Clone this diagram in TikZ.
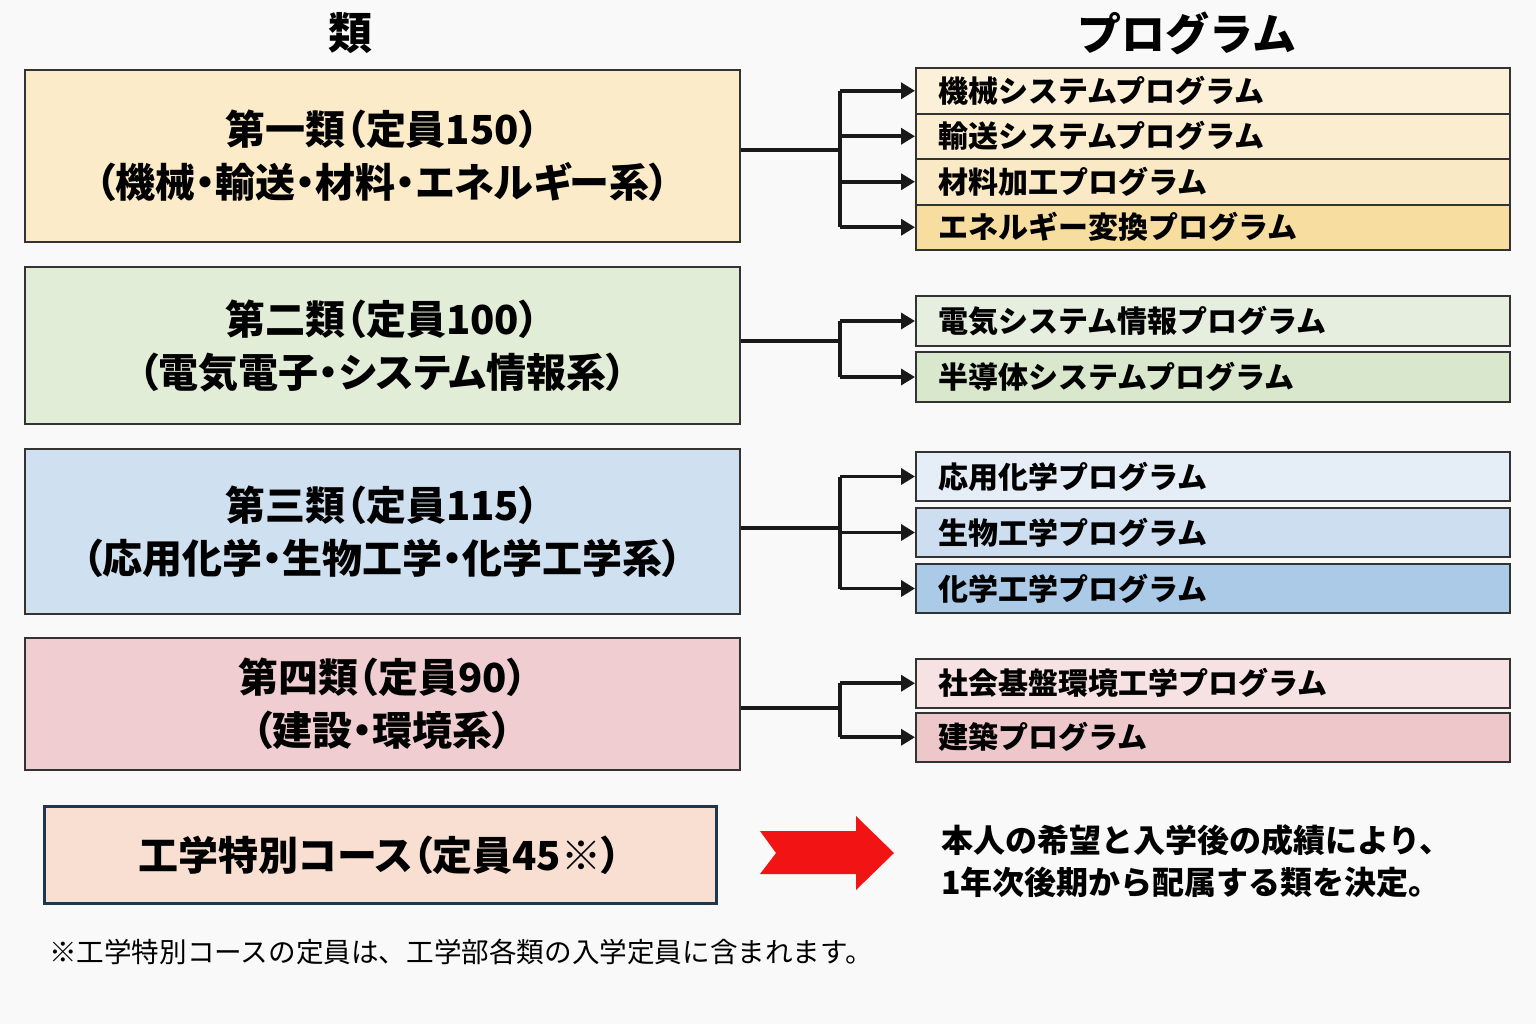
\documentclass[tikz,border=0pt]{standalone}
\usepackage{fontspec}
\setmainfont{Noto Sans CJK JP}
\newfontfamily\jp{Noto Sans CJK JP}[RawFeature=+palt]
\usetikzlibrary{arrows.meta}

\definecolor{bgc}{HTML}{F9F9F9}
\definecolor{rui1c}{HTML}{FBEBC9}
\definecolor{rui2c}{HTML}{E2EDD8}
\definecolor{rui3c}{HTML}{CFE0F0}
\definecolor{rui4c}{HTML}{F0CDD0}
\definecolor{tokuc}{HTML}{F8DFD2}
\definecolor{tokuline}{HTML}{1F3650}
\definecolor{pa1}{HTML}{FCF1D8}
\definecolor{pa2}{HTML}{FBEDCF}
\definecolor{pa3}{HTML}{FAE9C5}
\definecolor{pa4}{HTML}{F8DDA0}
\definecolor{pb1}{HTML}{E6EEDF}
\definecolor{pb2}{HTML}{D9E7CD}
\definecolor{pc1}{HTML}{E5EDF7}
\definecolor{pc2}{HTML}{CCDEF0}
\definecolor{pc3}{HTML}{AACAE7}
\definecolor{pd1}{HTML}{F7E2E3}
\definecolor{pd2}{HTML}{EDC7C9}
\definecolor{yajirushi}{HTML}{F21414}

\begin{document}
\begin{tikzpicture}[x=0.5pt,y=-0.5pt,
    ruibox/.style={draw=black!80,line width=1pt,minimum width=357.5pt,inner sep=0pt,
        align=center,font=\jp\bfseries\fontsize{20}{26.5}\selectfont},
    progbox/.style={draw=black!80,line width=1pt,anchor=north west,inner xsep=11pt,inner ysep=0pt,
        text width=275pt,align=left,font=\bfseries\fontsize{15}{18}\selectfont},
    conn/.style={line width=1.8pt,black!90},
    arr/.style={conn,-{Triangle[length=7pt,width=8pt]}}]
    % background
    \fill[bgc] (0,0) rectangle (1536,1024);
    \useasboundingbox (0,0) rectangle (1536,1024);
    % headers
    \node[font=\bfseries\fontsize{22}{22}\selectfont] (hrui) at (350,33) {類};
    \node[font=\bfseries\fontsize{22}{22}\selectfont] (hprog) at (1187,33) {プログラム};
    % rui boxes
    \node[ruibox,fill=rui1c,minimum height=86pt] (rui1) at (382.5,156)
        {第一類（定員150）\\（機械・輸送・材料・エネルギー系）};
    \node[ruibox,fill=rui2c,minimum height=78.5pt] (rui2) at (382.5,345.5)
        {第二類（定員100）\\（電気電子・システム情報系）};
    \node[ruibox,fill=rui3c,minimum height=82.5pt] (rui3) at (382.5,531.5)
        {第三類（定員115）\\（応用化学・生物工学・化学工学系）};
    \node[ruibox,fill=rui4c,minimum height=66pt] (rui4) at (382.5,704)
        {第四類（定員90）\\（建設・環境系）};
    % program boxes
    \node[progbox,fill=pa1,minimum height=22.75pt] (pa1) at (915,67) {機械システムプログラム};
    \node[progbox,fill=pa2,minimum height=22.75pt] (pa2) at (915,112.5) {輸送システムプログラム};
    \node[progbox,fill=pa3,minimum height=22.75pt] (pa3) at (915,158) {材料加工プログラム};
    \node[progbox,fill=pa4,minimum height=22.75pt] (pa4) at (915,203.5) {エネルギー変換プログラム};
    \node[progbox,fill=pb1,minimum height=25pt] (pb1) at (915,295) {電気システム情報プログラム};
    \node[progbox,fill=pb2,minimum height=25pt] (pb2) at (915,351) {半導体システムプログラム};
    \node[progbox,fill=pc1,minimum height=24.5pt] (pc1) at (915,451) {応用化学プログラム};
    \node[progbox,fill=pc2,minimum height=24.5pt] (pc2) at (915,507) {生物工学プログラム};
    \node[progbox,fill=pc3,minimum height=24.5pt] (pc3) at (915,563) {化学工学プログラム};
    \node[progbox,fill=pd1,minimum height=24.25pt] (pd1) at (915,658) {社会基盤環境工学プログラム};
    \node[progbox,fill=pd2,minimum height=24.25pt] (pd2) at (915,712) {建築プログラム};
    % branches
    \coordinate (ba) at (840,150);
    \coordinate (bb) at (840,341);
    \coordinate (bc) at (840,528);
    \coordinate (bd) at (840,708);
    \draw[conn] (rui1.east |- ba) -- (ba);
    \draw[conn] (rui2.east |- bb) -- (bb);
    \draw[conn] (rui3.east |- bc) -- (bc);
    \draw[conn] (rui4.east |- bd) -- (bd);
    \draw[conn] (ba |- pa1.west) -- (ba |- pa4.west);
    \draw[conn] (bb |- pb1.west) -- (bb |- pb2.west);
    \draw[conn] (bc |- pc1.west) -- (bc |- pc3.west);
    \draw[conn] (bd |- pd1.west) -- (bd |- pd2.west);
    \foreach \g/\p in {a/pa1, a/pa2, a/pa3, a/pa4, b/pb1, b/pb2, c/pc1, c/pc2, c/pc3, d/pd1, d/pd2} {
        \draw[arr] (b\g |- \p.west) -- (\p.west);
    }
    % special course
    \node[draw=tokuline,line width=1.5pt,fill=tokuc,minimum width=336pt,minimum height=48.5pt,
        font=\jp\bfseries\fontsize{20}{24}\selectfont] (toku) at (380,855) {工学特別コース（定員45※）};
    \fill[yajirushi] (760,831) -- (856,831) -- (856,816) -- (894,853) -- (856,890)
        -- (856,874) -- (760,874) -- (776,853) -- cycle;
    \node[anchor=west,align=left,font=\bfseries\fontsize{16}{21}\selectfont] (kettei) at (934,861)
        {本人の希望と入学後の成績により、\\1年次後期から配属する類を決定。};
    % note
    \node[anchor=west,font=\fontsize{13.8}{16}\selectfont] (chuu) at (42,952)
        {※工学特別コースの定員は、工学部各類の入学定員に含まれます。};
\end{tikzpicture}
\end{document}
